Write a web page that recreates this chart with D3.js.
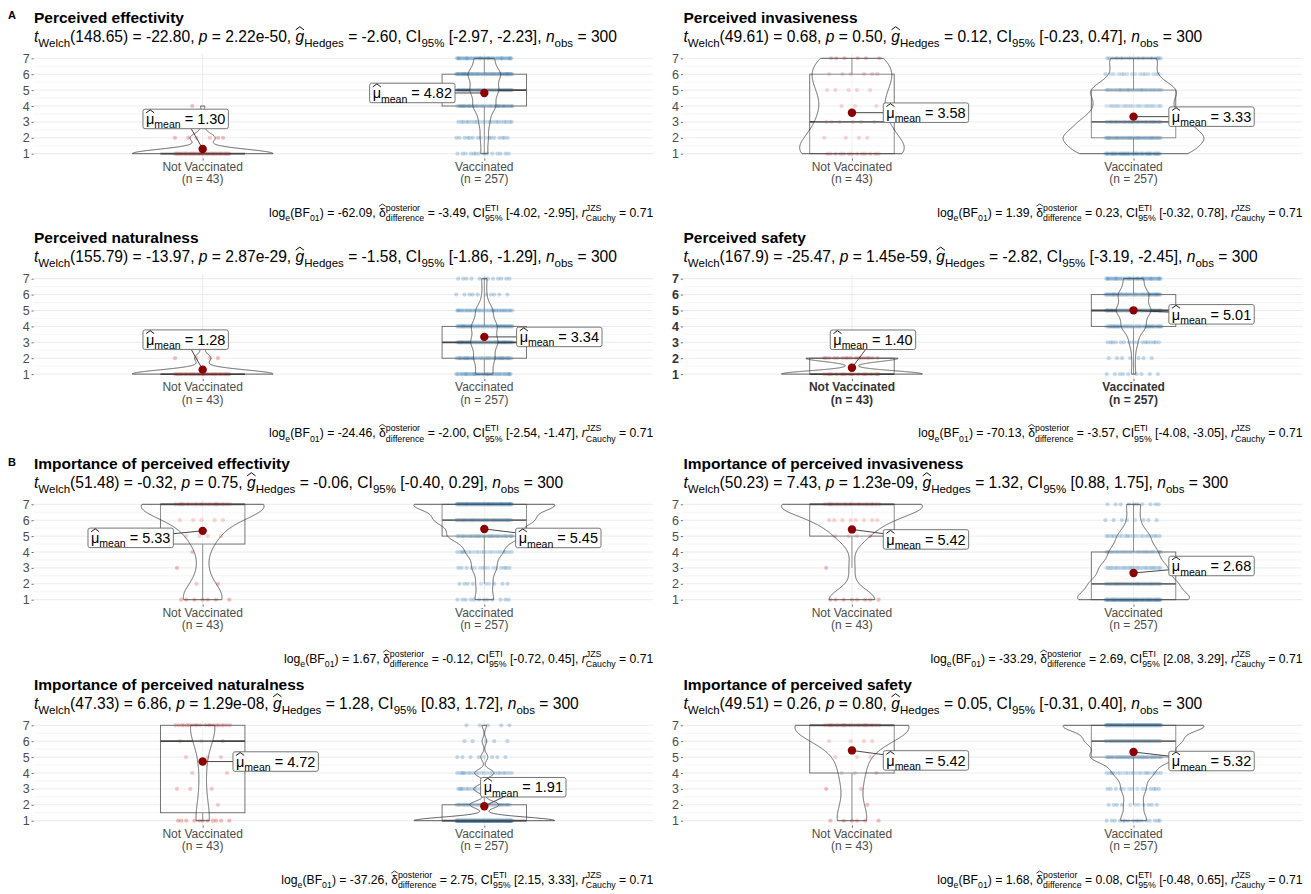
<!DOCTYPE html>
<html>
<head>
<meta charset="utf-8">
<script src="https://cdn.jsdelivr.net/npm/d3@7"></script>
<style>
  body { margin: 0; background: #fff; }
  text { font-family: "Liberation Sans", Arial, sans-serif; white-space: pre; }
</style>
</head>
<body>
<svg id="chart" width="1311" height="894"></svg>
<script>
// ---------------- data ----------------
const panelTitles = [
  "Perceived effectivity", "Perceived invasiveness",
  "Perceived naturalness", "Perceived safety",
  "Importance of perceived effectivity", "Importance of perceived invasiveness",
  "Importance of perceived naturalness", "Importance of perceived safety"
];
const sectionLetters = ["A", "B"];
const groupNames = ["Not Vaccinated", "Vaccinated"];
const groupSizes = [43, 257];
const likertLevels = [1, 2, 3, 4, 5, 6, 7];
const yTickLabels = ["1", "2", "3", "4", "5", "6", "7"];

// number of answers per level 1..7
const countsNotVaccinated = [
  [34, 6, 2, 1, 0, 0, 0],
  [13, 4, 6, 3, 5, 6, 6],
  [35, 4, 4, 0, 0, 0, 0],
  [26, 17, 0, 0, 0, 0, 0],
  [7, 2, 1, 1, 4, 5, 23],
  [8, 0, 1, 0, 4, 8, 22],
  [11, 1, 3, 2, 3, 3, 20],
  [6, 1, 2, 3, 3, 4, 24]
];
const countsVaccinated = [
  [14, 16, 21, 45, 56, 65, 40],
  [48, 60, 44, 29, 38, 16, 22],
  [38, 45, 59, 56, 37, 10, 12],
  [9, 7, 17, 50, 71, 62, 41],
  [12, 10, 15, 22, 45, 60, 93],
  [82, 58, 45, 32, 22, 8, 10],
  [160, 33, 24, 22, 8, 5, 5],
  [16, 11, 14, 23, 51, 54, 88]
];
const meanNotVaccinated = [1.30, 3.58, 1.28, 1.40, 5.33, 5.42, 4.72, 5.42];
const meanVaccinated = [4.82, 3.33, 3.34, 5.01, 5.45, 2.68, 1.91, 5.32];

// Welch t-test results
const nObs = 300;
const welchDf = ["148.65", "49.61", "155.79", "167.9", "51.48", "50.23", "47.33", "49.51"];
const welchT = ["-22.80", "0.68", "-13.97", "-25.47", "-0.32", "7.43", "6.86", "0.26"];
const pValues = ["2.22e-50", "0.50", "2.87e-29", "1.45e-59", "0.75", "1.23e-09", "1.29e-08", "0.80"];
const hedgesG = ["-2.60", "0.12", "-1.58", "-2.82", "-0.06", "1.32", "1.28", "0.05"];
const hedgesCiLow = ["-2.97", "-0.23", "-1.86", "-3.19", "-0.40", "0.88", "0.83", "-0.31"];
const hedgesCiHigh = ["-2.23", "0.47", "-1.29", "-2.45", "0.29", "1.75", "1.72", "0.40"];

// Bayesian t-test results
const logBF01 = ["-62.09", "1.39", "-24.46", "-70.13", "1.67", "-33.29", "-37.26", "1.68"];
const deltaPosterior = ["-3.49", "0.23", "-2.00", "-3.57", "-0.12", "2.69", "2.75", "0.08"];
const etiLow = ["-4.02", "-0.32", "-2.54", "-4.08", "-0.72", "2.08", "2.15", "-0.48"];
const etiHigh = ["-2.95", "0.78", "-1.47", "-3.05", "0.45", "3.29", "3.33", "0.65"];
const rCauchy = "0.71";

// ---------------- layout ----------------
const colFrames = [
  { left: 33.7, right: 653.3, textLeft: 34 },
  { left: 683, right: 1302.5, textLeft: 683.5 }
];
const rowTick7 = [58.3, 278.7, 504.3, 725.3];
const unitPx = 15.9;
const boldAxisPanels = [3];
// label centre relative to the mean point, [dx, dy] in px
const labelShiftNotVaccinated = [[-17, -30], [74, 0], [-17, -30], [21, -28], [-72, 7], [74, 10], [73, 0], [74, 10]];
const labelShiftVaccinated = [[-72, 0], [78, 0], [75, 0], [78, 4], [74, 9], [78, -7], [39, -19], [78, 9]];
const groupColors = ["#E41A1C", "#377EB8"];

const svg = d3.select("#chart");
svg.append("rect").attr("width", 1311).attr("height", 894).attr("fill", "#fff");

// ---------------- helpers ----------------
function drawHat(g, x0, w, size, lift, color) {
  const yb = -size * lift[0], yt = -size * lift[1];
  g.append("path")
    .attr("d", `M${x0 + w * 0.02},${yb}L${x0 + w / 2},${yt}L${x0 + w * 0.98},${yb}`)
    .attr("fill", "none").attr("stroke", color).attr("stroke-width", Math.max(0.8, size / 16));
}

// lays out text pieces with sub/superscripts left to right
function richText(parent, segs, x, y, o) {
  const g = parent.append("g");
  const fill = o.fill || "#000";
  let cx = 0;
  const put = (str, dy, size, italic) => {
    const t = g.append("text")
      .attr("x", cx).attr("y", dy)
      .attr("font-size", size)
      .attr("font-style", italic ? "italic" : null)
      .attr("font-weight", o.weight || null)
      .attr("fill", fill)
      .text(str);
    return t.node().getComputedTextLength();
  };
  segs.forEach(s => {
    if (s.t !== undefined) {
      const w = put(s.t, 0, o.size, s.i);
      if (s.hat) drawHat(g, cx, w, o.size, s.hat, fill);
      cx += w;
    } else {
      let w1 = 0, w2 = 0;
      if (s.sup !== undefined) w1 = put(s.sup, -o.size * (o.supRaise || 0.45), o.subSize);
      if (s.sub !== undefined) w2 = put(s.sub, o.size * (o.subDrop || 0.32), o.subSize);
      cx += Math.max(w1, w2);
    }
  });
  const shift = o.anchor === "end" ? -cx : (o.anchor === "middle" ? -cx / 2 : 0);
  g.attr("transform", `translate(${x + shift},${y})`);
  return { g, width: cx };
}

function expandCounts(counts) {
  const v = [];
  counts.forEach((c, k) => { for (let j = 0; j < c; j++) v.push(likertLevels[k]); });
  return v;
}

// Silverman's rule of thumb (bw.nrd0)
function bwNrd0(v) {
  const hi = d3.deviation(v);
  const iqr = d3.quantile(v, 0.75) - d3.quantile(v, 0.25);
  let lo = Math.min(hi, iqr / 1.34);
  if (!lo) lo = hi || Math.abs(v[0]) || 1;
  return 0.9 * lo * Math.pow(v.length, -0.2);
}

function kde(counts, v, n) {
  const bw = bwNrd0(v);
  const lo = d3.min(v), hi = d3.max(v);
  const norm = 1 / (v.length * bw * Math.sqrt(2 * Math.PI));
  return d3.range(n).map(i => {
    const yv = lo + (hi - lo) * i / (n - 1);
    let s = 0;
    counts.forEach((c, k) => { if (c) s += c * Math.exp(-0.5 * Math.pow((yv - likertLevels[k]) / bw, 2)); });
    return [yv, s * norm];
  });
}

const goldenStep = 0.6180339887;
function jitterUnit(j, k) {
  const f = (0.5 + j * goldenStep + k * 0.2718) % 1;
  return f * 2 - 1;
}

// ---------------- panels ----------------
function drawPanel(i) {
  const row = Math.floor(i / 2), col = i % 2;
  const fr = colFrames[col];
  const t7 = rowTick7[row], t1 = t7 + 6 * unitPx;
  const y = d3.scaleLinear().domain([0.7, 7.3]).range([t1 + 0.3 * unitPx, t7 - 0.3 * unitPx]);
  const x = d3.scalePoint().domain(groupNames).range([fr.left, fr.right]).padding(0.6);
  const step = x.step();
  const g = svg.append("g");
  const boldAxis = boldAxisPanels.includes(i);

  // grid
  const minor = d3.range(1.5, 7, 1);
  g.append("g").selectAll("line").data(minor).join("line")
    .attr("x1", fr.left).attr("x2", fr.right)
    .attr("y1", d => y(d)).attr("y2", d => y(d))
    .attr("stroke", "#F2F2F2").attr("stroke-width", 0.8);
  g.append("g").selectAll("line").data(likertLevels).join("line")
    .attr("x1", fr.left).attr("x2", fr.right)
    .attr("y1", d => y(d)).attr("y2", d => y(d))
    .attr("stroke", "#EBEBEB").attr("stroke-width", 1);
  g.append("g").selectAll("line").data(groupNames).join("line")
    .attr("x1", d => x(d)).attr("x2", d => x(d))
    .attr("y1", y(7.3)).attr("y2", y(0.7))
    .attr("stroke", "#EBEBEB").attr("stroke-width", 1);

  // y axis
  const yAxis = d3.axisLeft(y).tickValues(likertLevels).tickFormat((d, k) => yTickLabels[k])
    .tickSize(2.2).tickPadding(1.8);
  const ya = g.append("g").attr("transform", `translate(${fr.left},0)`).call(yAxis);
  ya.select(".domain").remove();
  ya.selectAll("line").attr("stroke", "#4D4D4D").attr("stroke-width", 0.8);
  ya.selectAll("text").attr("font-size", 12.5).attr("fill", boldAxis ? "#333" : "#4D4D4D")
    .attr("font-weight", boldAxis ? "bold" : null)
    .attr("font-family", "Liberation Sans, Arial, sans-serif");

  // x axis
  const xAxis = d3.axisBottom(x).tickSize(2.2).tickFormat("");
  const xa = g.append("g").attr("transform", `translate(0,${y(0.7)})`).call(xAxis);
  xa.select(".domain").remove();
  xa.selectAll("line").attr("stroke", "#4D4D4D").attr("stroke-width", 0.8);
  groupNames.forEach((name, k) => {
    const t = g.append("text").attr("text-anchor", "middle")
      .attr("font-size", 12).attr("fill", boldAxis ? "#333" : "#4D4D4D")
      .attr("font-weight", boldAxis ? "bold" : null);
    t.append("tspan").attr("x", x(name)).attr("y", t1 + 17).text(name);
    t.append("tspan").attr("x", x(name)).attr("y", t1 + 29.5).text(`(n = ${groupSizes[k]})`);
  });

  const countsList = [countsNotVaccinated[i], countsVaccinated[i]];
  const valuesList = countsList.map(expandCounts);
  const dens = countsList.map((c, k) => kde(c, valuesList[k], 512));
  const maxDens = d3.max(dens.flat(), d => d[1]);
  const wScale = d3.scaleLinear().domain([0, maxDens]).range([0, 0.25 * step]);

  // jittered observations
  const pts = [];
  countsList.forEach((counts, gk) => {
    counts.forEach((c, lk) => {
      for (let j = 0; j < c; j++) pts.push({ gk, level: likertLevels[lk], off: jitterUnit(j, lk + gk * 3) });
    });
  });
  g.append("g").selectAll("circle").data(pts).join("circle")
    .attr("cx", d => x(groupNames[d.gk]) + d.off * 0.1 * step)
    .attr("cy", d => y(d.level))
    .attr("r", 2.1)
    .attr("fill", d => groupColors[d.gk])
    .attr("fill-opacity", 0.28);

  // boxplots
  valuesList.forEach((v, gk) => {
    const cx = x(groupNames[gk]);
    const q1 = d3.quantile(v, 0.25), med = d3.quantile(v, 0.5), q3 = d3.quantile(v, 0.75);
    const iqr = q3 - q1;
    const upper = d3.max(v.filter(d => d <= q3 + 1.5 * iqr));
    const lower = d3.min(v.filter(d => d >= q1 - 1.5 * iqr));
    const bw = 0.15 * step;
    const bg = g.append("g");
    bg.append("line").attr("x1", cx).attr("x2", cx).attr("y1", y(q3)).attr("y2", y(upper))
      .attr("stroke", "#666").attr("stroke-width", 0.9);
    bg.append("line").attr("x1", cx).attr("x2", cx).attr("y1", y(q1)).attr("y2", y(lower))
      .attr("stroke", "#666").attr("stroke-width", 0.9);
    bg.append("rect").attr("x", cx - bw).attr("width", 2 * bw)
      .attr("y", y(q3)).attr("height", Math.max(0, y(q1) - y(q3)))
      .attr("fill", "#fff").attr("fill-opacity", 0.2)
      .attr("stroke", "#666").attr("stroke-width", 0.9);
    bg.append("line").attr("x1", cx - bw).attr("x2", cx + bw).attr("y1", y(med)).attr("y2", y(med))
      .attr("stroke", "#444").attr("stroke-width", 1.8);
  });

  // violins
  dens.forEach((dd, gk) => {
    const cx = x(groupNames[gk]);
    const right = dd.map(d => [cx + wScale(d[1]), y(d[0])]);
    const left = dd.slice().reverse().map(d => [cx - wScale(d[1]), y(d[0])]);
    g.append("path").attr("d", d3.line()(right.concat(left)) + "Z")
      .attr("fill", "#fff").attr("fill-opacity", 0.2)
      .attr("stroke", "#3a3a3a").attr("stroke-width", 0.8);
  });

  // means with labels
  const means = [meanNotVaccinated[i], meanVaccinated[i]];
  const shifts = [labelShiftNotVaccinated[i], labelShiftVaccinated[i]];
  means.forEach((m, gk) => {
    const px = x(groupNames[gk]), py = y(m);
    const lx = px + shifts[gk][0], ly = py + shifts[gk][1];
    const lg = g.append("g");
    const conn = lg.append("line").attr("stroke", "#333").attr("stroke-width", 0.9);
    lg.append("circle").attr("cx", px).attr("cy", py).attr("r", 4.2).attr("fill", "#8B0000");
    const boxG = lg.append("g");
    const rect = boxG.append("rect");
    const rt = richText(boxG, [{ t: "μ", hat: [0.78, 0.98] }, { sub: "mean" }, { t: ` = ${m.toFixed(2)}` }],
      lx, ly + 5.2, { size: 14.5, subSize: 10.5, anchor: "middle", subDrop: 0.3 });
    const bwid = rt.width + 6, bh = 19.5;
    rect.attr("x", lx - bwid / 2).attr("y", ly - bh / 2).attr("width", bwid).attr("height", bh)
      .attr("rx", 2).attr("fill", "#fff").attr("stroke", "#666").attr("stroke-width", 0.9);
    // connector ends at the label border
    const dx = lx - px, dy = ly - py;
    const tx = dx === 0 ? -1 : (Math.abs(dx) - bwid / 2) / Math.abs(dx);
    const ty = dy === 0 ? -1 : (Math.abs(dy) - bh / 2) / Math.abs(dy);
    const tEdge = Math.max(0, Math.min(1, Math.max(tx, ty)));
    conn.attr("x1", px).attr("y1", py).attr("x2", px + dx * tEdge).attr("y2", py + dy * tEdge);
  });

  // title, subtitle, caption
  svg.append("text").attr("x", fr.textLeft).attr("y", t7 - 35.3)
    .attr("font-size", 15.5).attr("font-weight", "bold").attr("fill", "#000")
    .text(panelTitles[i]);

  richText(svg, [
    { t: "t", i: 1 }, { sub: "Welch" }, { t: `(${welchDf[i]}) = ${welchT[i]}, ` },
    { t: "p", i: 1 }, { t: ` = ${pValues[i]}, ` },
    { t: "g", i: 1, hat: [0.78, 0.98] }, { sub: "Hedges" }, { t: ` = ${hedgesG[i]}, CI` },
    { sub: "95%" }, { t: ` [${hedgesCiLow[i]}, ${hedgesCiHigh[i]}], ` },
    { t: "n", i: 1 }, { sub: "obs" }, { t: ` = ${nObs}` }
  ], fr.textLeft, t7 - 16.3, { size: 15.6, subSize: 11.5, subDrop: 0.3 });

  richText(svg, [
    { t: "log" }, { sub: "e" }, { t: "(BF" }, { sub: "01" }, { t: `) = ${logBF01[i]}, ` },
    { t: "δ", hat: [0.86, 1.04] }, { sup: "posterior", sub: "difference" }, { t: ` = ${deltaPosterior[i]}, CI` },
    { sup: "ETI", sub: "95%" }, { t: ` [${etiLow[i]}, ${etiHigh[i]}], ` },
    { t: "r", i: 1 }, { sup: "JZS", sub: "Cauchy" }, { t: ` = ${rCauchy}` }
  ], fr.right, t1 + 63, { size: 12.2, subSize: 8.8, anchor: "end", supRaise: 0.5, subDrop: 0.38 });
}

for (let i = 0; i < 8; i++) drawPanel(i);

// section letters
sectionLetters.forEach((s, k) => {
  svg.append("text").attr("x", 8).attr("y", k === 0 ? 19 : 466)
    .attr("font-size", 11).attr("font-weight", "bold").attr("fill", "#000").text(s);
});
</script>
</body>
</html>
